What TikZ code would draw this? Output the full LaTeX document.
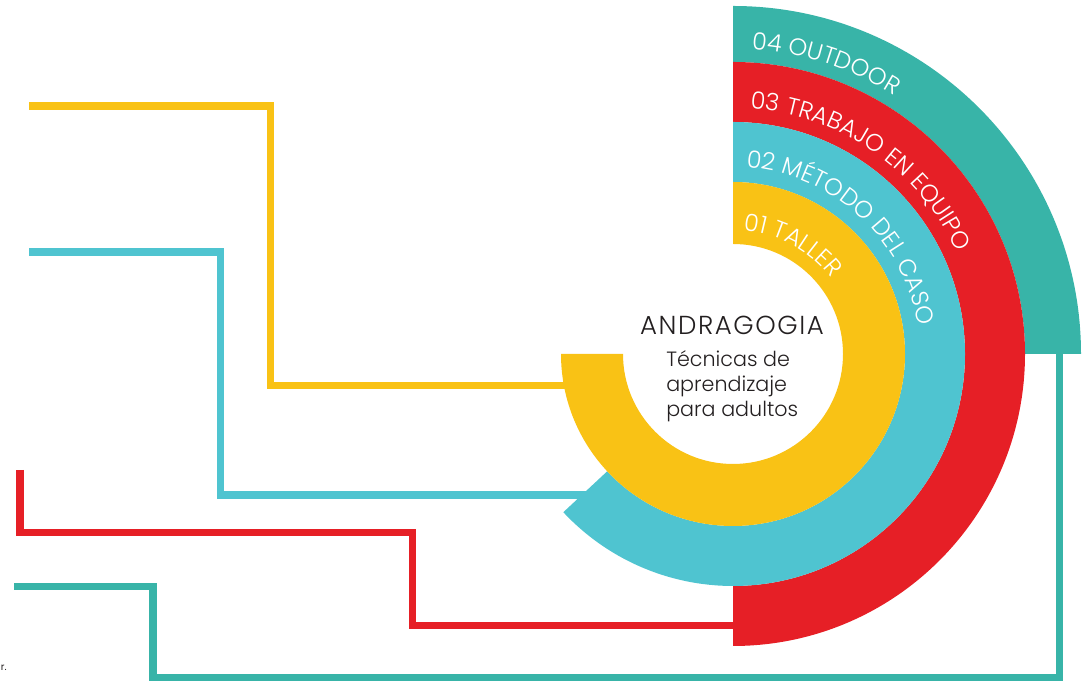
\documentclass[tikz,border=0pt]{standalone}
\usepackage{fontspec}
\setmainfont{Poppins}
\IfFontExistsTF{Poppins Light}{\newfontfamily\ringfont{Poppins Light}}{\newfontfamily\ringfont{Poppins}}
\IfFontExistsTF{Poppins Light}{\newfontfamily\titlefont[LetterSpace=6]{Poppins Light}}{\newfontfamily\titlefont[LetterSpace=6]{Poppins}}
\usetikzlibrary{decorations.text}
\definecolor{cteal}{HTML}{38B4A8}
\definecolor{cred}{HTML}{E61F26}
\definecolor{ccyan}{HTML}{4FC4D0}
\definecolor{cyel}{HTML}{F9C215}
\definecolor{cink}{HTML}{231F20}
\tikzset{
  conn/.style={line width=5.3pt, line join=miter, line cap=butt},
  ringlabel/.style={decorate, decoration={text along path, text color=white, text align={left indent=0pt}}},
  centertitle/.style={font=\titlefont\fontsize{18.5}{20}\selectfont, text=cink, inner sep=0pt},
  centersub/.style={font=\ringfont\fontsize{14.7}{17}\selectfont, text=cink, inner sep=0pt, anchor=base west},
}
\begin{document}
\begin{tikzpicture}[x=0.025cm,y=0.025cm]
\useasboundingbox (0,0) rectangle (1086,681);
\coordinate (C) at (733,327);
% connector coordinates
\coordinate (ys) at (29,575);
\coordinate (ye) at (572,295.5);
\coordinate (cs) at (29,429);
\coordinate (ce) at (600,186);
\coordinate (rs) at (20,211);
\coordinate (re) at (740,55.5);
\coordinate (ts) at (14,94.5);
\coordinate (te) at (1059.5,334);
% connectors
\draw[conn, cyel] (ys) -| (270.5,295.5) -- (ye);
\draw[conn, ccyan] (cs) -| (220.5,186) -- (ce);
\draw[conn, cred] (rs) |- (412.5,148.5) |- (re);
\draw[conn, cteal] (ts) -| (153,3.5) -| (te);
% rings
\begin{scope}[shift={(C)}]
\fill[cteal] (90:348) arc[start angle=90,end angle=0,radius=348] -- (0:292) arc[start angle=0,end angle=90,radius=292] -- cycle;
\fill[cred] (90:292) arc[start angle=90,end angle=-90,radius=292] -- (-90:232) arc[start angle=-90,end angle=90,radius=232] -- cycle;
\fill[ccyan] (90:232) arc[start angle=90,end angle=-137,radius=232] -- (-137:172) arc[start angle=-137,end angle=90,radius=172] -- cycle;
\fill[cyel] (90:172) arc[start angle=90,end angle=-180,radius=172] -- (-180:110) arc[start angle=-180,end angle=90,radius=110] -- cycle;
\path[ringlabel, decoration={text={|\ringfont\fontsize{17}{20}\selectfont|04 OUTDOOR}}] (86.5:305) arc[start angle=86.5,end angle=0,radius=305];
\path[ringlabel, decoration={text={|\ringfont\fontsize{17}{20}\selectfont|03 TRABAJO EN EQUIPO}}] (86:246) arc[start angle=86,end angle=0,radius=246];
\path[ringlabel, decoration={text={|\ringfont\fontsize{17}{20}\selectfont|02 MÉTODO DEL CASO}}] (86:187) arc[start angle=86,end angle=-10,radius=187];
\path[ringlabel, decoration={text={|\ringfont\fontsize{17}{20}\selectfont|01 TALLER}}] (85:124) arc[start angle=85,end angle=0,radius=124];
\end{scope}
% centre text
\node[centertitle, anchor=base] (title) at (732,346) {ANDRAGOGIA};
\node[centersub] (sub1) at (666,314) {Técnicas de};
\node[centersub] (sub2) at (666,289) {aprendizaje};
\node[centersub] (sub3) at (666,264) {para adultos};
\node[font=\fontsize{7}{8}\selectfont, text=cink, inner sep=0pt, anchor=base east] (rdot) at (7,10) {r.};
\end{tikzpicture}
\end{document}
